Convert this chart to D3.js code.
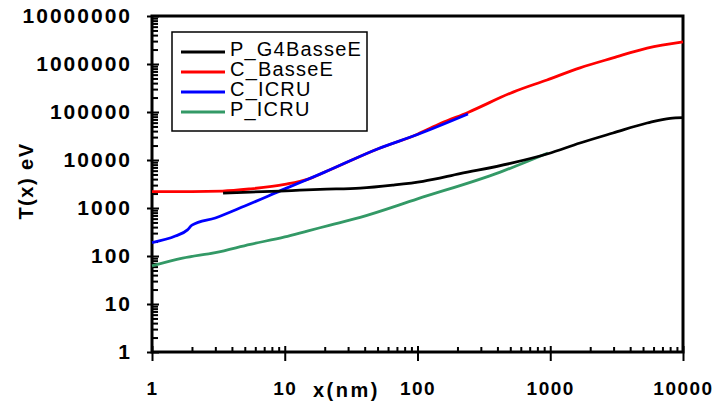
<!DOCTYPE html>
<html><head><meta charset="utf-8">
<script src="https://cdn.jsdelivr.net/npm/d3@7"></script>
<style>
html,body{margin:0;padding:0;background:#fff;}
svg{display:block;font-family:"Liberation Sans",Arial,sans-serif;}
</style></head>
<body><svg id="c" width="720" height="407"></svg>
<script>
// ---- data ----
const seriesNames = ["P_G4BasseE", "C_BasseE", "C_ICRU", "P_ICRU"];
const seriesColors = ["#000000", "#ff0000", "#0000ff", "#339966"];

const pG4X = [3.43, 5.5, 9.2, 13, 18.4, 37, 65, 110, 209, 500, 960, 1675, 2970, 5370, 8000, 10000];
const pG4Y = [2050, 2150, 2250, 2350, 2450, 2600, 3000, 3600, 5200, 8500, 13500, 22600, 36500, 59000, 74000, 76000];

const cBasseX = [1, 2, 3.4, 5.5, 10, 15, 20, 50, 100, 150, 240, 525, 945, 1675, 2970, 5370, 10000];
const cBasseY = [2200, 2200, 2250, 2500, 3100, 4000, 5600, 17000, 34500, 58000, 98000, 260000, 465000, 830000, 1340000, 2150000, 2900000];

const cIcruX = [1, 1.5, 1.85, 2.0, 3, 5, 10, 20, 50, 100, 240];
const cIcruY = [190, 260, 350, 440, 620, 1100, 2500, 5600, 17000, 34000, 91000];

const pIcruX = [1, 1.7, 3, 5.5, 10, 15, 22, 37, 100, 420, 960];
const pIcruY = [62, 90, 118, 175, 250, 335, 440, 640, 1550, 5600, 14000];

const xTicks = [1, 10, 100, 1000, 10000];
const yTicks = [1, 10, 100, 1000, 10000, 100000, 1000000, 10000000];

// ---- layout ----
const L = 152, R = 683, T = 16, B = 352;
const svg = d3.select("#c");
const x = d3.scaleLog().domain([1, 10000]).range([L, R]);
const y = d3.scaleLog().domain([1, 1e7]).range([B, T]);

const minor = (ticks) => {
  const out = [];
  for (let i = 0; i < ticks.length - 1; i++)
    for (let k = 2; k <= 9; k++) out.push(ticks[i] * k);
  return out;
};

// frame
svg.append("rect").attr("x", L).attr("y", T).attr("width", R - L).attr("height", B - T)
  .attr("fill", "none").attr("stroke", "#000").attr("stroke-width", 3);

function styleAxis(g) {
  g.select(".domain").remove();
  g.selectAll(".tick line").attr("stroke", "#000").attr("stroke-width", 2);
}

// x axis
svg.append("g").attr("transform", `translate(0,${B})`)
  .call(d3.axisBottom(x).tickValues(xTicks).tickSize(9).tickPadding(21).tickFormat(d3.format("d")))
  .call(styleAxis)
  .call(g => g.selectAll("text").attr("font-size", 19).attr("font-weight", "bold")
    .attr("letter-spacing", "1.5px").attr("fill", "#000")
    .attr("font-family", "Liberation Sans, Arial, sans-serif"));
svg.append("g").attr("transform", `translate(0,${B})`)
  .call(d3.axisBottom(x).tickValues(xTicks).tickSize(-6).tickFormat(""))
  .call(styleAxis);
svg.append("g").attr("transform", `translate(0,${B})`)
  .call(d3.axisBottom(x).tickValues(minor(xTicks)).tickSize(-5).tickFormat(""))
  .call(styleAxis);

// y axis
svg.append("g").attr("transform", `translate(${L},0)`)
  .call(d3.axisLeft(y).tickValues(yTicks).tickSize(5).tickPadding(15).tickFormat(d3.format("d")))
  .call(styleAxis)
  .call(g => g.selectAll("text").attr("font-size", 21).attr("font-weight", "bold")
    .attr("letter-spacing", "2px").attr("fill", "#000")
    .attr("font-family", "Liberation Sans, Arial, sans-serif"));
svg.append("g").attr("transform", `translate(${L},0)`)
  .call(d3.axisLeft(y).tickValues(yTicks).tickSize(-7).tickFormat(""))
  .call(styleAxis);
svg.append("g").attr("transform", `translate(${L},0)`)
  .call(d3.axisLeft(y).tickValues(minor(yTicks)).tickSize(-6).tickFormat(""))
  .call(styleAxis);

// axis titles
svg.append("text").attr("x", 313).attr("y", 397).attr("font-size", 20).attr("font-weight", "bold")
  .attr("letter-spacing", "2.5px").text("x(nm)");
svg.append("text").attr("transform", "translate(33,181) rotate(-90)").attr("text-anchor", "middle")
  .attr("font-size", 20).attr("font-weight", "bold").attr("letter-spacing", "1.5px").text("T(x) eV");

// series
const series = [
  {xs: pIcruX, ys: pIcruY, c: seriesColors[3]},
  {xs: cBasseX, ys: cBasseY, c: seriesColors[1]},
  {xs: cIcruX, ys: cIcruY, c: seriesColors[2]},
  {xs: pG4X, ys: pG4Y, c: seriesColors[0]}
];
const line = d3.line().x(d => x(d[0])).y(d => y(d[1])).curve(d3.curveMonotoneX);
series.forEach(s => {
  svg.append("path").datum(s.xs.map((v, i) => [v, s.ys[i]]))
    .attr("d", line).attr("fill", "none").attr("stroke", s.c).attr("stroke-width", 2.8);
});

// legend
svg.append("rect").attr("x", 172).attr("y", 32).attr("width", 195).attr("height", 99)
  .attr("fill", "#fff").attr("stroke", "#000").attr("stroke-width", 1.5);
seriesNames.forEach((n, i) => {
  const yy = 52 + i * 20;
  svg.append("line").attr("x1", 181).attr("x2", 225).attr("y1", yy).attr("y2", yy)
    .attr("stroke", seriesColors[i]).attr("stroke-width", 3);
  svg.append("text").attr("x", 230).attr("y", yy + 4).attr("font-size", 20)
    .attr("letter-spacing", "1.2px").text(n);
});
</script></body></html>
